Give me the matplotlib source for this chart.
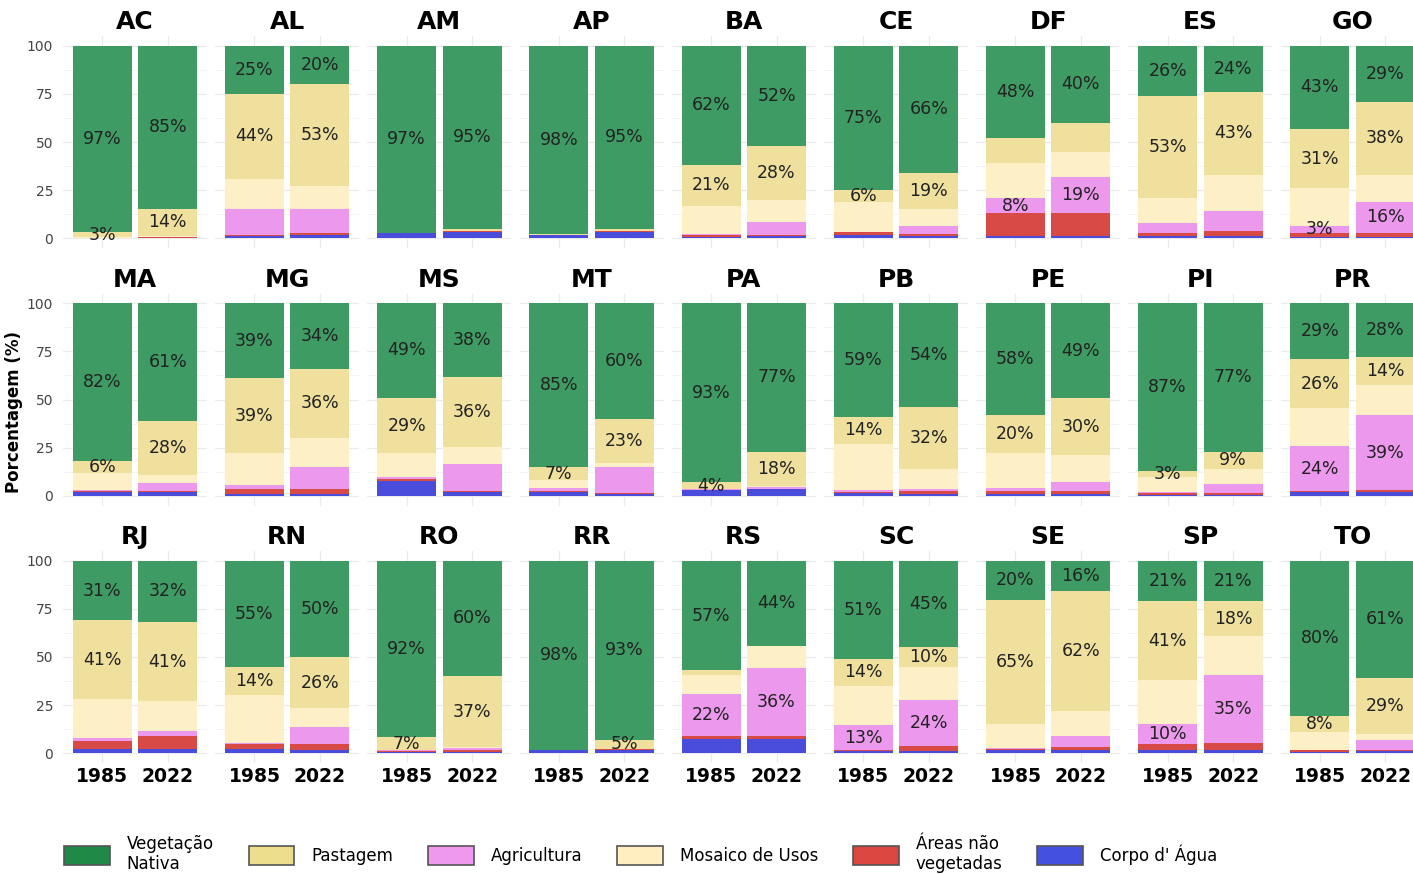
import matplotlib.pyplot as plt
from matplotlib.patches import Patch

# Uso e cobertura da terra por UF, 1985 x 2022 (%)
estados = ["AC", "AL", "AM", "AP", "BA", "CE", "DF", "ES", "GO",
           "MA", "MG", "MS", "MT", "PA", "PB", "PE", "PI", "PR",
           "RJ", "RN", "RO", "RR", "RS", "SC", "SE", "SP", "TO"]
anos = ["1985", "2022"]

agua_1985 = [0.2, 1, 2.6, 1.8, 0.8, 1.8, 1, 1, 0.5, 2, 1, 7.5, 2, 3, 1.5, 0.8, 0.2, 2,
             2.5, 2.5, 0.8, 1.5, 7.5, 1, 1.8, 2, 0.8]
agua_2022 = [0.3, 1.5, 3.5, 3.5, 1, 1, 1, 1, 0.5, 2, 1, 2.2, 1, 3.5, 1, 1, 0.2, 2,
             2.5, 1.5, 0.8, 2, 7.5, 1, 2, 2, 1]
nao_veg_1985 = [0.1, 1, 0.1, 0.1, 1, 1.5, 12, 2, 2.5, 0.7, 2.5, 1, 0.5, 0.3, 0.5, 1.5, 1.5, 0.3,
                4, 2.5, 0.4, 0.2, 1.3, 0.7, 0.7, 2.6, 0.7]
nao_veg_2022 = [0.4, 1.5, 0.1, 0.3, 1, 1.5, 12, 3, 2.5, 0.5, 2.5, 0.3, 0.5, 0.2, 1.7, 1.5, 1.3, 1,
                6.5, 3.5, 0.7, 0.2, 1.4, 2.8, 1.5, 3.5, 1]
agricultura_1985 = [0.1, 13, 0, 0, 0.5, 0.2, 8, 5, 3.4, 0.3, 2, 1.5, 1.5, 0.1, 1, 2, 0.3, 23.7,
                    1.5, 0.5, 0.3, 0, 22.2, 13, 0.5, 10.4, 0.3]
agricultura_2022 = [0.2, 12, 0, 0.1, 6.5, 4, 19, 10, 16, 4, 11.5, 14, 13.5, 0.8, 0.8, 4.5, 4.5, 39,
                    2.5, 8.5, 1.5, 0.1, 35.6, 23.7, 5.5, 35.4, 5]
mosaico_1985 = [0.3, 16, 0.1, 0.1, 14.7, 15.5, 18, 13, 19.5, 9, 16.5, 12, 4.2, 0, 24, 18, 8, 19.5,
                20, 25, 0, 0, 9.5, 20.3, 12, 23, 9.5]
mosaico_2022 = [0.5, 12, 0.1, 0.1, 11.5, 8.5, 13, 19, 14, 4.5, 15, 9, 2, 0.5, 10.5, 14, 8, 15.5,
                15.5, 10, 0.3, 0.1, 11, 17.5, 13, 20, 3]
pastagem_1985 = [2.6, 44, 0.2, 0.2, 21, 6, 13, 53, 31, 6, 39, 29, 6.8, 3.6, 14, 19.7, 3, 25.6,
                 41, 14.4, 6.9, 0.3, 2.5, 14, 64.8, 41, 8.3]
pastagem_2022 = [13.8, 53, 1.3, 1.0, 28, 19, 15, 43, 38, 28, 36, 36.4, 23, 18, 32, 29.8, 9, 14.4,
                 41, 26.4, 36.7, 4.6, 0.3, 10, 62, 18, 29]
vegetacao_1985 = [96.7, 25, 97, 97.8, 62, 75, 48, 26, 43, 82, 39, 49, 85, 93, 59, 58, 87, 28.9,
                  31, 55.1, 91.6, 98, 57, 51, 20.2, 21, 80.4]
vegetacao_2022 = [84.8, 20, 95, 95, 52, 66, 40, 24, 29, 61, 34, 38.1, 60, 77, 54, 49.2, 77, 28.1,
                  32, 50.1, 60, 93, 44.2, 45, 16, 21.1, 61]

# ordem de empilhamento (de baixo para cima)
categorias = ["Corpo d' Água", "Áreas não\nvegetadas", "Agricultura",
              "Mosaico de Usos", "Pastagem", "Vegetação\nNativa"]
series = [(agua_1985, agua_2022), (nao_veg_1985, nao_veg_2022),
          (agricultura_1985, agricultura_2022), (mosaico_1985, mosaico_2022),
          (pastagem_1985, pastagem_2022), (vegetacao_1985, vegetacao_2022)]
cores = ["#4A4CDB", "#D84A46", "#EC98EC", "#FDEFC6", "#EFE09E", "#3E9B63"]
cores_legenda = ["#4450E0", "#DC4640", "#EE99EE", "#FFEFC0", "#EDDE8E", "#1F8A47"]
ordem_legenda = [5, 4, 2, 3, 1, 0]

# quais segmentos recebem rotulo
rotulo_pastagem = [uf for uf in estados if uf not in ("AM", "AP", "DF", "RS")]
rotulo_agricultura = ["DF", "GO", "PR", "RS", "SC", "SP"]

W, H = 1413, 874
fig = plt.figure(figsize=(W / 100, H / 100), dpi=100)

for i, uf in enumerate(estados):
    row, col = divmod(i, 9)
    left = 63 + col * 152.2
    top = 36 + row * 257.5
    ax = fig.add_axes([left / W, (H - top - 212) / H, 144 / W, 212 / H])
    base = [0.0, 0.0]
    for k, (s85, s22) in enumerate(series):
        vals = [s85[i], s22[i]]
        ax.bar([0, 1], vals, width=0.9, bottom=base, color=cores[k], zorder=2)
        mostrar = (k == 5 or (k == 4 and uf in rotulo_pastagem)
                   or (k == 2 and uf in rotulo_agricultura))
        if mostrar:
            for j in range(2):
                if vals[j] >= 2.5:
                    ax.text(j, base[j] + vals[j] / 2, f"{vals[j]:.0f}%", ha="center",
                            va="center", fontsize=12.5, color="#222222", zorder=3)
        base = [b + v for b, v in zip(base, vals)]

    ax.set_xlim(-0.6, 1.6)
    ax.set_ylim(-5, 105)
    ax.set_xticks([0, 1])
    ax.set_yticks([0, 25, 50, 75, 100])
    ax.set_yticks([12.5, 37.5, 62.5, 87.5], minor=True)
    ax.grid(True, which="major", color="#EBEBEB", lw=0.9, zorder=0)
    ax.grid(True, which="minor", axis="y", color="#F3F3F3", lw=0.6, zorder=0)
    for sp in ax.spines.values():
        sp.set_visible(False)
    ax.tick_params(which="both", length=0)
    ax.set_title(uf, fontsize=18, fontweight="bold", pad=5)
    if col == 0:
        ax.tick_params(axis="y", labelsize=10, labelcolor="#444444", pad=7)
    else:
        ax.set_yticklabels([])
    if row == 2:
        ax.set_xticklabels(anos, fontsize=13.5, fontweight="bold")
        ax.tick_params(axis="x", pad=3)
    else:
        ax.set_xticklabels([])

fig.text(14 / W, 1 - 412 / H, "Porcentagem (%)", rotation=90, ha="center",
         va="center", fontsize=12, fontweight="bold")

handles = [Patch(facecolor=cores_legenda[k], edgecolor="#555555", lw=1.2) for k in ordem_legenda]
rotulos = [categorias[k] for k in ordem_legenda]
fig.legend(handles, rotulos, ncol=6, loc="center left",
           bbox_to_anchor=(64 / W, (H - 854) / H), frameon=False, fontsize=12,
           handlelength=2.75, handleheight=1.45, handletextpad=1.0,
           columnspacing=2.1, borderpad=0, borderaxespad=0)

fig.savefig("out.png", dpi=100)
